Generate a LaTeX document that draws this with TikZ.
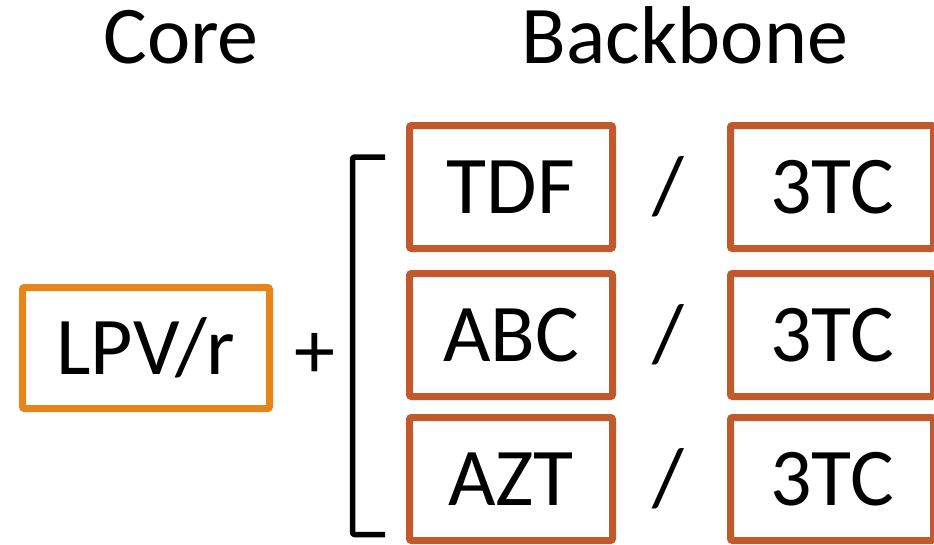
\documentclass[tikz,border=0pt]{standalone}
\usepackage{fontspec}
\setmainfont{Carlito}
\definecolor{coreorange}{RGB}{230,134,26}
\definecolor{bbbrown}{RGB}{193,89,45}
\begin{document}
\begin{tikzpicture}[x=1pt,y=-1pt,
  big/.style={font=\fontsize{82}{98}\selectfont},
  glyph/.style={big, inner sep=0pt, text height=52pt, text depth=0pt},
  drugbox/.style={glyph, draw=bbbrown, line width=7pt, rounded corners=2pt,
    minimum width=203pt, minimum height=123pt, fill=white},
  corebox/.style={drugbox, draw=coreorange, minimum width=247pt, minimum height=121pt},
  title/.style={big, anchor=base, inner sep=0pt},
  bracket/.style={line width=5.5pt, line join=round, line cap=butt, rounded corners=1.5pt},
]
\useasboundingbox (0,0) rectangle (934,544);
% titles
\node[title] (core title) at (181,63) {Core};
\node[title] (bb title) at (685,63) {Backbone};
% core
\node[corebox] (core) at (146,348) {LPV/r};
\node[glyph] (plus) at (315,352) {+};
% bracket
\coordinate (bt) at (385,157);
\coordinate (btc) at (352.5,157);
\coordinate (bbc) at (352.5,534.5);
\coordinate (bb) at (385,534.5);
\draw[bracket] (bt) -- (btc) -- (bbc) -- (bb);
% backbone rows
\node[drugbox] (tdf) at (511,187) {TDF};
\node[drugbox] (abc) at (511,335) {ABC};
\node[drugbox] (azt) at (511,479) {AZT};
\node[glyph] (s1) at (668,187) {/};
\node[glyph] (s2) at (668,335) {/};
\node[glyph] (s3) at (668,479) {/};
\node[drugbox] (tc1) at (832,187) {3TC};
\node[drugbox] (tc2) at (832,335) {3TC};
\node[drugbox] (tc3) at (832,479) {3TC};
\end{tikzpicture}
\end{document}
